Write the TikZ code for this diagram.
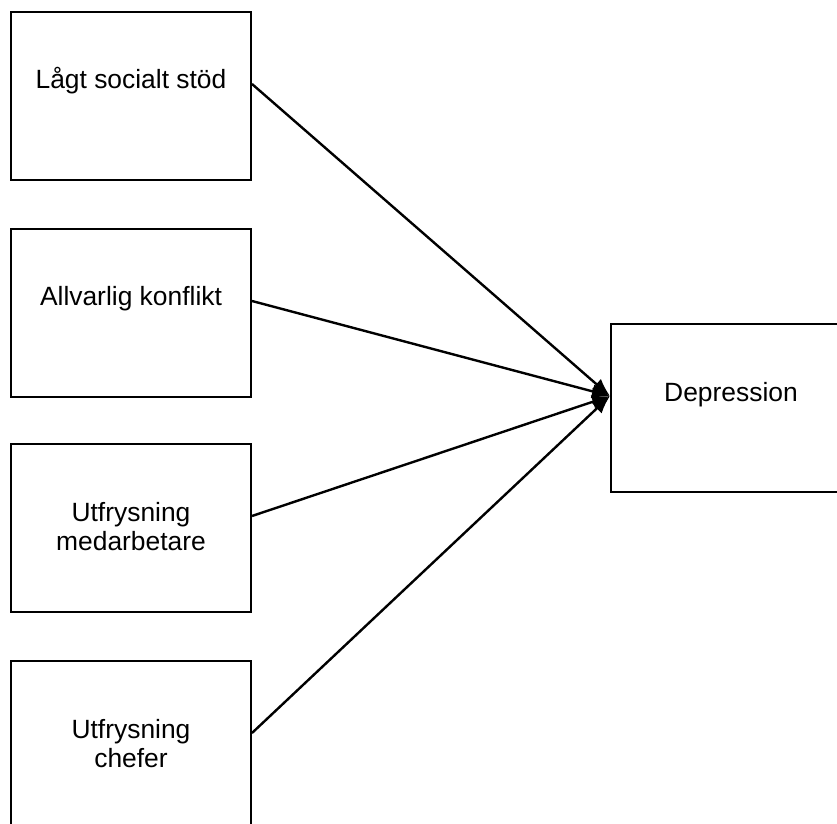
\documentclass[tikz,border=0pt]{standalone}
\usepackage{fontspec}
\setmainfont{Liberation Sans}
\usetikzlibrary{arrows.meta}
\tikzstyle{arrow} = [line width=1.2pt,-{Latex[length=9pt,width=7pt]}]
\tikzstyle{box} = [rectangle, draw=black, line width=1pt, minimum width=120pt, minimum height=84pt]
\tikzstyle{lbl} = [align=center, inner sep=0pt, anchor=base, font=\fontsize{13.2}{14.7}\selectfont]

\begin{document}
\begin{tikzpicture}[x=0.5pt, y=-0.5pt]
		\clip (0,0) rectangle (837,824);
		\node (b1) [box] at (131,96) {};
		\node (b2) [box] at (131,313) {};
		\node (b3) [box] at (131,528) {};
		\node (b4) [box] at (131,745) {};
		\node (dep) [box] at (731,408) {};
		\node (t1) [lbl] at ([yshift=-39pt]b1.north) {Lågt socialt stöd};
		\node (t2) [lbl] at ([yshift=-39pt]b2.north) {Allvarlig konflikt};
		\node (t3) [lbl] at ([yshift=-53.7pt]b3.north) {Utfrysning\\medarbetare};
		\node (t4) [lbl] at ([yshift=-53.7pt]b4.north) {Utfrysning\\chefer};
		\node (t5) [lbl] at ([yshift=-39pt]dep.north) {Depression};
		\coordinate (tip) at ([yshift=6pt]dep.west);
		\draw [arrow] ([yshift=-36.5pt]b1.north east) -- (tip);
		\draw [arrow] ([yshift=-36.5pt]b2.north east) -- (tip);
		\draw [arrow] ([yshift=-36.5pt]b3.north east) -- (tip);
		\draw [arrow] ([yshift=-36.5pt]b4.north east) -- (tip);
\end{tikzpicture}
\end{document}
